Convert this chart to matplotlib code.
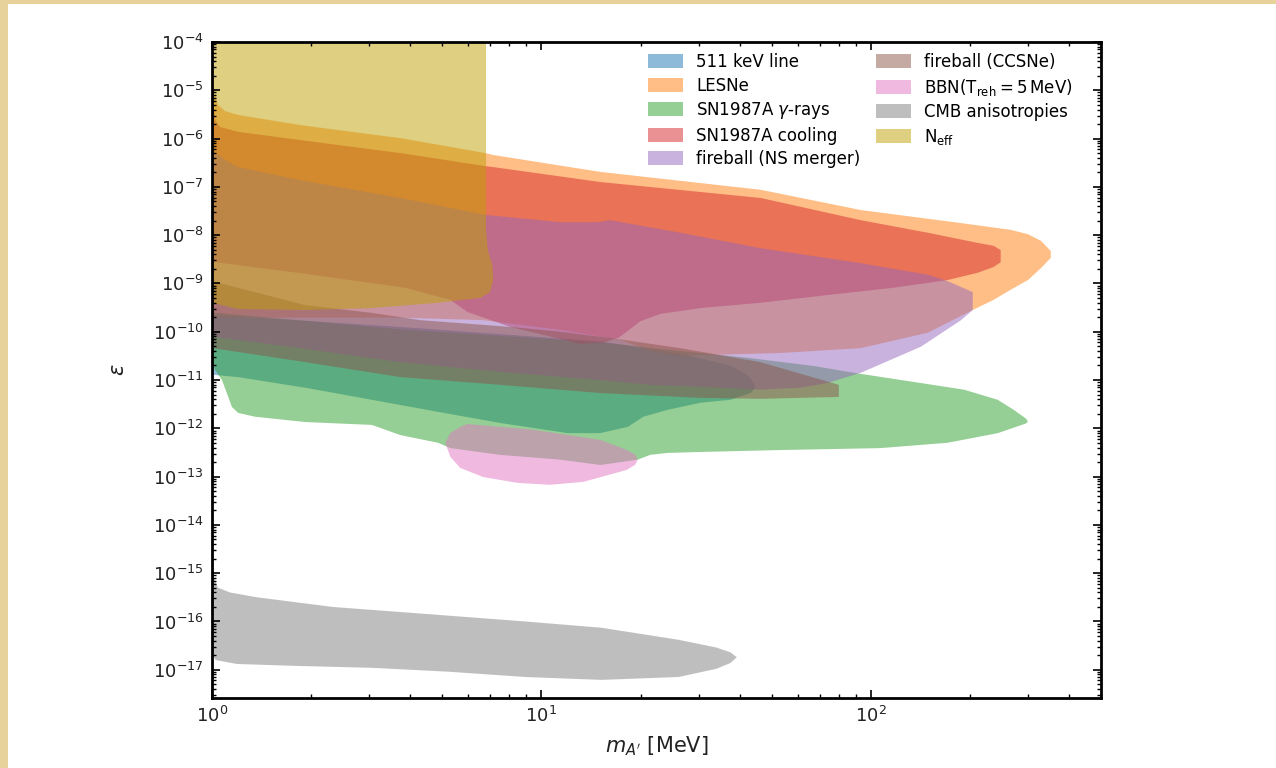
import matplotlib
matplotlib.use("Agg")
import matplotlib.pyplot as plt
import numpy as np
from matplotlib.patches import Rectangle
from matplotlib.ticker import LogLocator, NullFormatter

#Contornos de cada región: masa en MeV y log10(epsilon)
#(borde superior de izquierda a derecha y después borde inferior de derecha a izquierda)

linea511_m = [1.0, 3.73, 15.1, 26.4, 37.5, 42.3, 44.1, 44.7,
              43.2, 37.5, 30.4, 24.1, 20.4, 18.3, 15.1, 12.0, 7.5, 4.86, 3.06, 1.92, 1.20, 1.0]
linea511_logeps = [-9.65, -9.9, -10.2, -10.45, -10.7, -10.9, -11.06, -11.16,
                   -11.27, -11.41, -11.47, -11.62, -11.76, -11.97, -12.10, -12.10, -11.89, -11.66, -11.41, -11.16, -10.94, -10.89]

lesne_m = [1.0, 1.007, 1.021, 1.043, 1.095, 1.20, 1.85, 3.73, 6.76, 7.14, 15.1, 46.3, 93.3, 188, 266, 300, 329, 352,
           352, 329, 300, 266, 236, 204, 149, 93.3, 53.3, 26.4, 21.4, 17.4, 11.4, 6.66, 3.73, 1.92, 1.0]
lesne_logeps = [-4.7, -4.79, -5.10, -5.30, -5.43, -5.51, -5.72, -5.99, -6.30, -6.34, -6.69, -7.06, -7.48, -7.75, -7.89, -7.98, -8.12, -8.33,
                -8.47, -8.68, -8.93, -9.13, -9.34, -9.55, -10.02, -10.34, -10.44, -10.50, -10.40, -10.17, -9.96, -9.76, -9.71, -9.71, -9.71]

gamma_m = [1.0, 3.73, 15.1, 26.4, 42.3, 67.1, 88.8, 135, 192, 243, 272, 296, 300,
           296, 276, 243, 171, 107, 53.3, 30.4, 24.1, 21.4, 19.6, 15.1, 11.4, 7.5, 5.29, 4.86, 3.73, 3.06, 1.92,
           1.35, 1.20, 1.15, 1.072, 1.021, 1.0]
gamma_logeps = [-9.6, -9.95, -10.22, -10.4, -10.54, -10.71, -10.85, -11.04, -11.20, -11.41, -11.62, -11.80, -11.86,
                -11.90, -11.97, -12.10, -12.30, -12.41, -12.45, -12.49, -12.51, -12.55, -12.65, -12.76, -12.65, -12.55, -12.41, -12.30, -12.14, -11.93, -11.87,
                -11.76, -11.68, -11.56, -11.00, -10.79, -10.6]

cooling_m = [1.0, 1.007, 1.021, 1.058, 1.20, 1.85, 3.73, 6.76, 7.14, 15.1, 46.3, 93.3, 149, 211, 236, 248,
             248, 236, 211, 171, 117, 74, 46.3, 30.4, 23.0, 20.0, 18.8, 17.2, 15.6, 13.1, 11.4, 8.05, 5.96, 5.29, 3.86, 1.92, 1.0]
cooling_logeps = [-4.64, -5.1, -5.61, -5.76, -5.86, -6.03, -6.30, -6.57, -6.59, -6.90, -7.23, -7.69, -7.95, -8.16, -8.22, -8.31,
                  -8.56, -8.66, -8.78, -8.93, -9.09, -9.24, -9.40, -9.51, -9.63, -9.78, -9.92, -10.12, -10.22, -10.25, -10.15, -9.90, -9.59, -9.34, -9.09, -8.80, -8.55]

nsmerger_m = [1.0, 1.007, 1.095, 1.20, 1.85, 3.73, 6.76, 11.4, 14.8, 16.2, 26.4, 46.3, 93.3, 149, 171, 204,
              204, 188, 142, 93.3, 74, 61.3, 46.3, 30.4, 21.4, 15.1, 7.5, 3.73, 1.85, 1.20, 1.0]
nsmerger_logeps = [-6.0, -6.24, -6.44, -6.59, -6.86, -7.23, -7.58, -7.73, -7.73, -7.69, -7.95, -8.27, -8.58, -8.82, -8.95, -9.18,
                   -9.55, -9.76, -10.31, -10.85, -11.06, -11.16, -11.20, -11.14, -11.10, -11.0, -10.83, -10.63, -10.34, -10.17, -10.1]

ccsne_m = [1.0, 1.20, 1.92, 3.06, 4.29, 8.05, 11.4, 16.2, 26.4, 46.3, 80.0,
           80.0, 46.3, 30.4, 20.0, 15.1, 7.5, 3.73, 1.92, 1.20, 1.0]
ccsne_logeps = [-8.95, -9.09, -9.45, -9.61, -9.76, -9.90, -10.0, -10.13, -10.34, -10.63, -11.10,
                -11.35, -11.39, -11.37, -11.31, -11.27, -11.1, -10.94, -10.63, -10.42, -10.34]

bbn_m = [5.11, 5.29, 5.67, 5.96, 9.46, 15.1, 18.2, 19.3, 19.6,
         19.3, 18.2, 13.4, 10.6, 8.46, 6.66, 5.67, 5.29]
bbn_logeps = [-12.3, -12.1, -11.97, -11.91, -12.03, -12.24, -12.45, -12.55, -12.65,
              -12.75, -12.86, -13.11, -13.17, -13.13, -13.01, -12.82, -12.59]

cmb_m = [1.0, 1.005, 1.014, 1.042, 1.135, 1.37, 2.33, 4.0, 8.93, 15.2, 26.1, 34.0, 37.5, 39.2,
         37.5, 34.0, 26.1, 15.2, 8.93, 5.21, 3.06, 1.79, 1.19, 1.028, 1.0]
cmb_logeps = [-14.7, -14.75, -15.1, -15.3, -15.4, -15.5, -15.7, -15.82, -16.0, -16.13, -16.38, -16.54, -16.64, -16.74,
              -16.86, -16.98, -17.15, -17.21, -17.15, -17.04, -16.96, -16.92, -16.88, -16.8, -16.7]

neff_m = [1.0, 6.79, 6.79, 6.88, 7.10, 7.14, 6.98, 6.53, 4.86, 3.06, 1.92, 1.20, 1.0]
neff_logeps = [-3.5, -3.5, -7.89, -8.31, -8.62, -8.93, -9.18, -9.30, -9.40, -9.51, -9.55, -9.53, -9.40]

etiquetas = ["511 keV line", "LESNe", r"SN1987A $\gamma$-rays", "SN1987A cooling",
             "fireball (NS merger)", "fireball (CCSNe)", r"BBN($\mathrm{T_{reh}=5\,MeV}$)",
             "CMB anisotropies", r"$\mathrm{N_{eff}}$"]
colores = ["C0", "C1", "C2", "C3", "C4", "C5", "C6", "C7", "#bea005"]

regiones = [(linea511_m, linea511_logeps), (lesne_m, lesne_logeps), (gamma_m, gamma_logeps),
            (cooling_m, cooling_logeps), (nsmerger_m, nsmerger_logeps), (ccsne_m, ccsne_logeps),
            (bbn_m, bbn_logeps), (cmb_m, cmb_logeps), (neff_m, neff_logeps)]

decadas_y = [10.0 ** k for k in range(-17, -3)]

fig = plt.figure(figsize=(12.76, 7.68), dpi=100)

#Borde de pergamino arriba y a la izquierda
fig.patches.append(Rectangle((0, 1 - 4 / 768), 1, 4 / 768, transform=fig.transFigure,
                             facecolor="#e8d29c", edgecolor="none", zorder=0))
fig.patches.append(Rectangle((0, 0), 8 / 1276, 1, transform=fig.transFigure,
                             facecolor="#e8d29c", edgecolor="none", zorder=0))

ax = fig.add_axes([212 / 1276, 1 - 698 / 768, 889 / 1276, 656 / 768])

#Dibujar cada región
for (m, le), color, etiqueta in zip(regiones, colores, etiquetas):
    ax.fill(m, 10.0 ** np.array(le), color=color, alpha=0.5, lw=0, label=etiqueta)

ax.set_xscale("log")
ax.set_yscale("log")
ax.set_xlim(1, 500)
ax.set_ylim(2.6e-18, 1e-4)

ax.set_yticks(decadas_y)
ax.yaxis.set_minor_locator(LogLocator(base=10, subs=np.arange(2, 10), numticks=30))
ax.yaxis.set_minor_formatter(NullFormatter())
ax.xaxis.set_minor_formatter(NullFormatter())

ax.tick_params(which="both", direction="in", top=True, right=True, labelsize=13,
               labelcolor="#222222")
ax.tick_params(which="major", length=6, width=1.2, pad=6)
ax.tick_params(which="minor", length=3, width=1)
for lado in ax.spines.values():
    lado.set_linewidth(2)

ax.set_xlabel(r"$m_{A'}$ [MeV]", fontsize=15, labelpad=6, color="#222222")
ax.set_ylabel(r"$\varepsilon$", fontsize=15, labelpad=18, color="#222222")

ax.legend(loc="upper left", ncol=2, frameon=False, fontsize=12,
          handlelength=2.1, handleheight=0.9, handletextpad=0.8, columnspacing=0.9,
          labelspacing=0.33, borderpad=0, borderaxespad=0,
          bbox_to_anchor=(0.4904, 0.983))

plt.savefig("out.png", dpi=100)
